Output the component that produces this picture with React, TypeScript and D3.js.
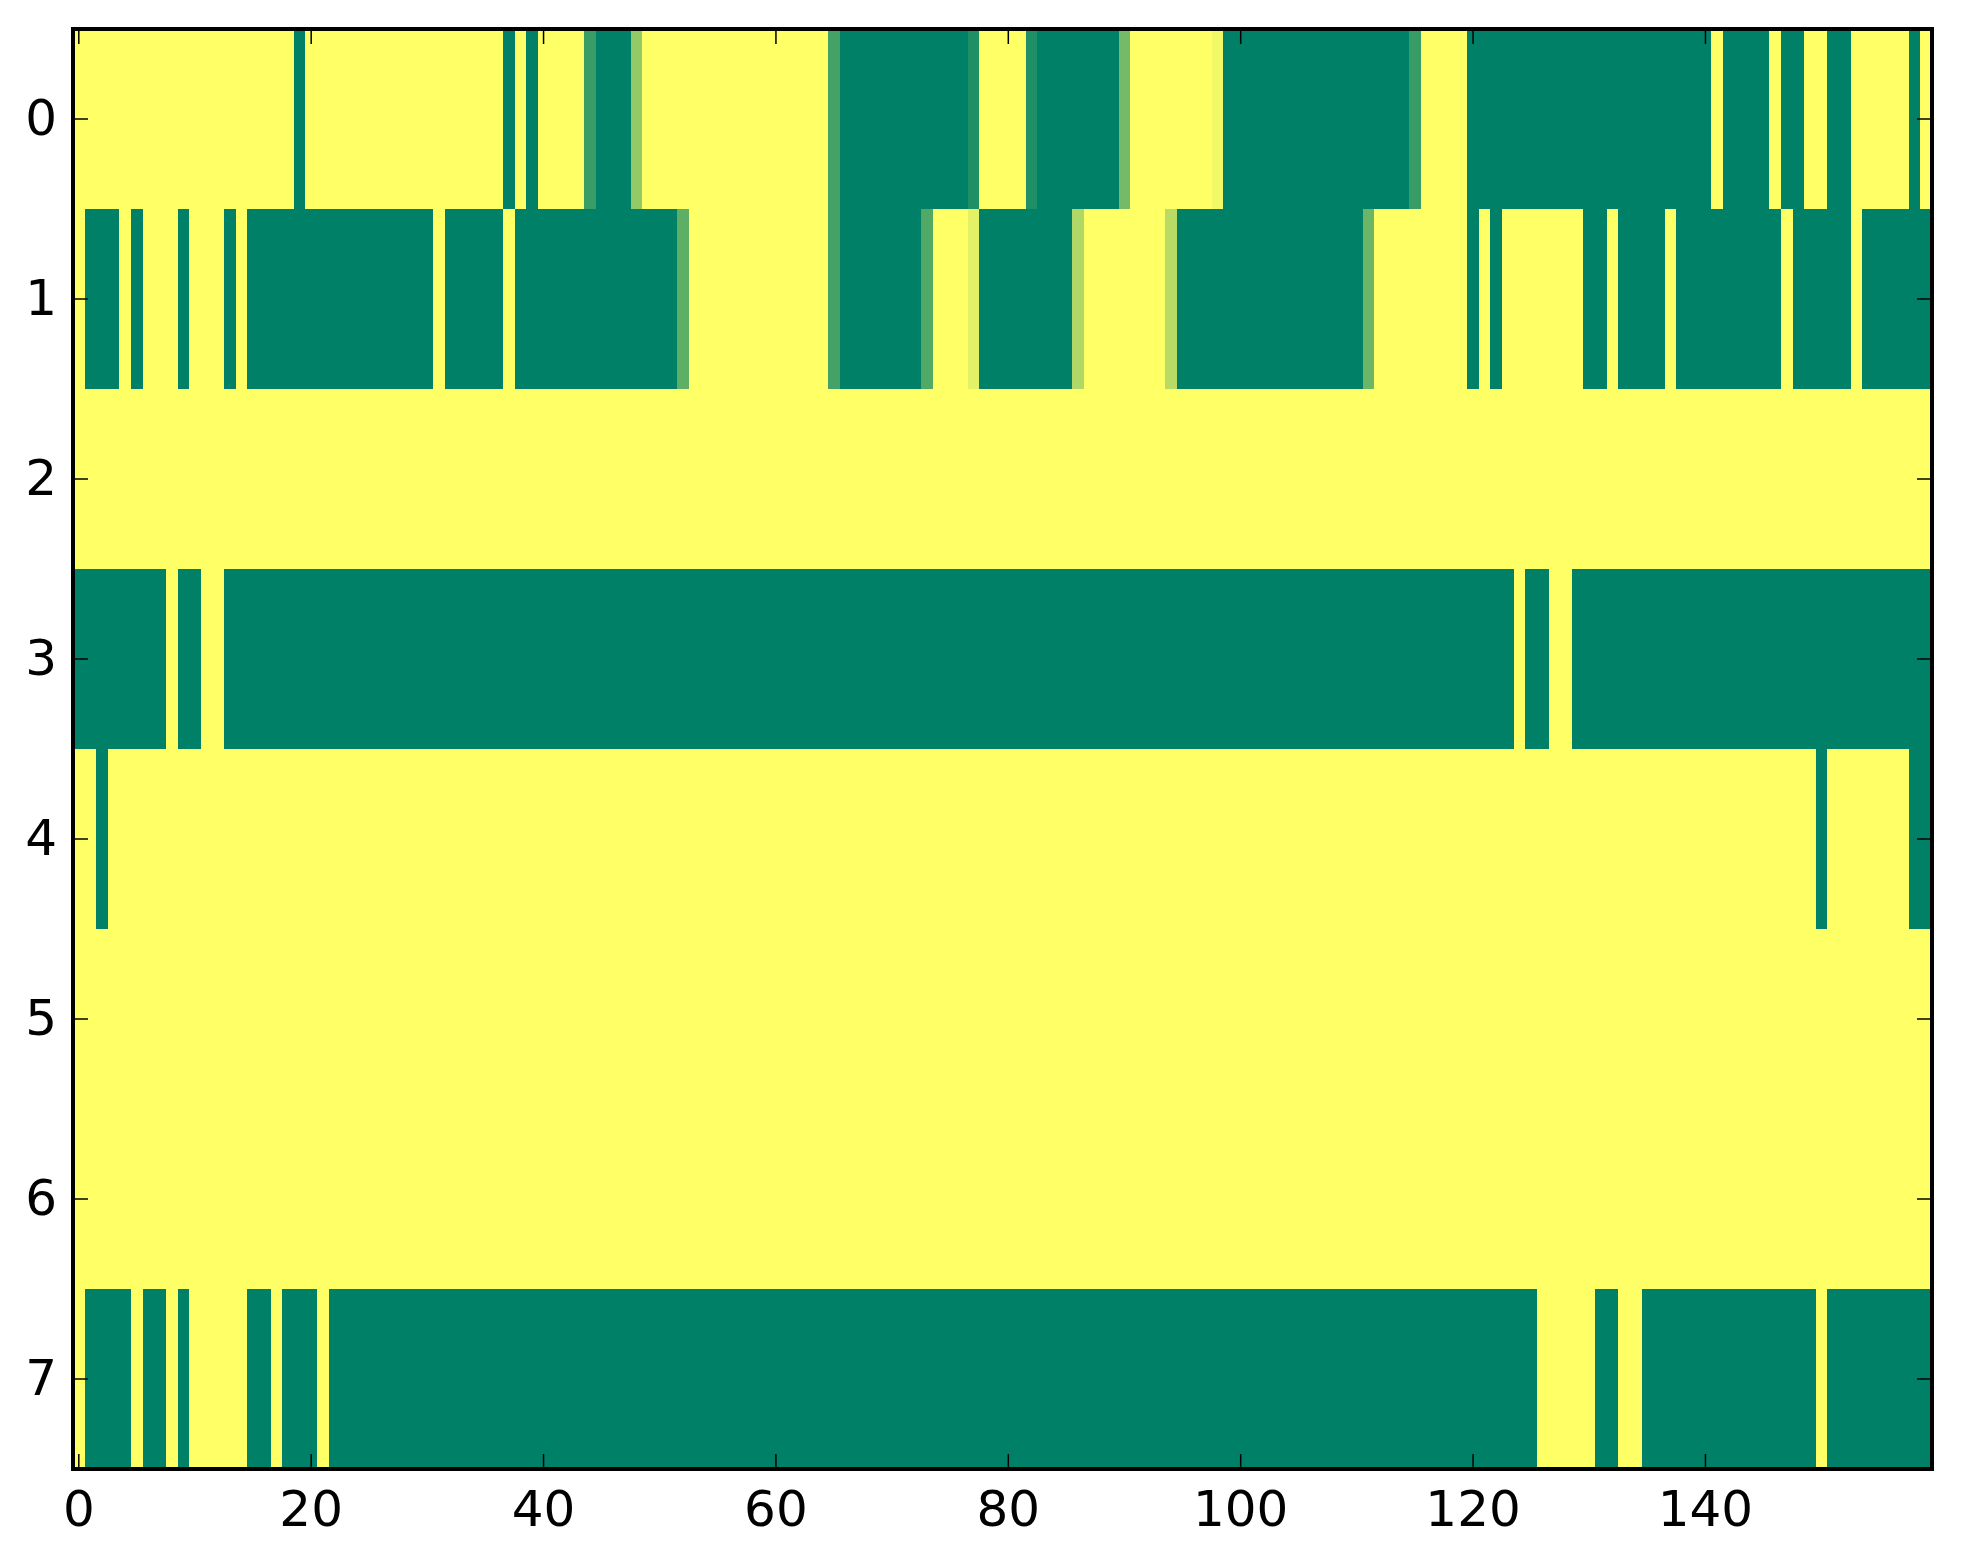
import React from "react";
import * as d3 from "d3";

// Row labels and x tick labels
const rowLabels = [0, 1, 2, 3, 4, 5, 6, 7];
const xTickValues = [0, 20, 40, 60, 80, 100, 120, 140];

// Cell values (0 = yellow, 1 = green), 160 columns per row
const row0 = [
  0,0,0,0,0,0,0,0,0,0,0,0,0,0,0,0,0,0,0,1,
  0,0,0,0,0,0,0,0,0,0,0,0,0,0,0,0,0,1,0,1,
  0,0,0,0,0.77,1,1,1,0.42,0,0,0,0,0,0,0,0,0,0,0,
  0,0,0,0,0,0.73,1,1,1,1,1,1,1,1,1,1,1,0.88,0,0,
  0,0,0.88,1,1,1,1,1,1,1,0.54,0,0,0,0,0,0,0,0.05,1,
  1,1,1,1,1,1,1,1,1,1,1,1,1,1,1,0.78,0,0,0,0,
  1,1,1,1,1,1,1,1,1,1,1,1,1,1,1,1,1,1,1,1,
  1,0,1,1,1,1,0,1,1,0,0,1,1,0,0,0,0,0,1,0,
];
const row1 = [
  0,1,1,1,0,1,0,0,0,1,0,0,0,1,0,1,1,1,1,1,
  1,1,1,1,1,1,1,1,1,1,1,0,1,1,1,1,1,0,1,1,
  1,1,1,1,1,1,1,1,1,1,1,1,0.63,0,0,0,0,0,0,0,
  0,0,0,0,0,0.73,1,1,1,1,1,1,1,0.68,0,0,0,0.11,1,1,
  1,1,1,1,1,1,0.31,0,0,0,0,0,0,0,0.28,1,1,1,1,1,
  1,1,1,1,1,1,1,1,1,1,1,0.58,0,0,0,0,0,0,0,0,
  1,0,1,0,0,0,0,0,0,0,1,1,0,1,1,1,1,0,1,1,
  1,1,1,1,1,1,1,0,1,1,1,1,1,0,1,1,1,1,1,1,
];
const row2 = [
  0,0,0,0,0,0,0,0,0,0,0,0,0,0,0,0,0,0,0,0,
  0,0,0,0,0,0,0,0,0,0,0,0,0,0,0,0,0,0,0,0,
  0,0,0,0,0,0,0,0,0,0,0,0,0,0,0,0,0,0,0,0,
  0,0,0,0,0,0,0,0,0,0,0,0,0,0,0,0,0,0,0,0,
  0,0,0,0,0,0,0,0,0,0,0,0,0,0,0,0,0,0,0,0,
  0,0,0,0,0,0,0,0,0,0,0,0,0,0,0,0,0,0,0,0,
  0,0,0,0,0,0,0,0,0,0,0,0,0,0,0,0,0,0,0,0,
  0,0,0,0,0,0,0,0,0,0,0,0,0,0,0,0,0,0,0,0,
];
const row3 = [
  1,1,1,1,1,1,1,1,0,1,1,0,0,1,1,1,1,1,1,1,
  1,1,1,1,1,1,1,1,1,1,1,1,1,1,1,1,1,1,1,1,
  1,1,1,1,1,1,1,1,1,1,1,1,1,1,1,1,1,1,1,1,
  1,1,1,1,1,1,1,1,1,1,1,1,1,1,1,1,1,1,1,1,
  1,1,1,1,1,1,1,1,1,1,1,1,1,1,1,1,1,1,1,1,
  1,1,1,1,1,1,1,1,1,1,1,1,1,1,1,1,1,1,1,1,
  1,1,1,1,0,1,1,0,0,1,1,1,1,1,1,1,1,1,1,1,
  1,1,1,1,1,1,1,1,1,1,1,1,1,1,1,1,1,1,1,1,
];
const row4 = [
  0,0,1,0,0,0,0,0,0,0,0,0,0,0,0,0,0,0,0,0,
  0,0,0,0,0,0,0,0,0,0,0,0,0,0,0,0,0,0,0,0,
  0,0,0,0,0,0,0,0,0,0,0,0,0,0,0,0,0,0,0,0,
  0,0,0,0,0,0,0,0,0,0,0,0,0,0,0,0,0,0,0,0,
  0,0,0,0,0,0,0,0,0,0,0,0,0,0,0,0,0,0,0,0,
  0,0,0,0,0,0,0,0,0,0,0,0,0,0,0,0,0,0,0,0,
  0,0,0,0,0,0,0,0,0,0,0,0,0,0,0,0,0,0,0,0,
  0,0,0,0,0,0,0,0,0,0,1,0,0,0,0,0,0,0,1,1,
];
const row5 = [
  0,0,0,0,0,0,0,0,0,0,0,0,0,0,0,0,0,0,0,0,
  0,0,0,0,0,0,0,0,0,0,0,0,0,0,0,0,0,0,0,0,
  0,0,0,0,0,0,0,0,0,0,0,0,0,0,0,0,0,0,0,0,
  0,0,0,0,0,0,0,0,0,0,0,0,0,0,0,0,0,0,0,0,
  0,0,0,0,0,0,0,0,0,0,0,0,0,0,0,0,0,0,0,0,
  0,0,0,0,0,0,0,0,0,0,0,0,0,0,0,0,0,0,0,0,
  0,0,0,0,0,0,0,0,0,0,0,0,0,0,0,0,0,0,0,0,
  0,0,0,0,0,0,0,0,0,0,0,0,0,0,0,0,0,0,0,0,
];
const row6 = [
  0,0,0,0,0,0,0,0,0,0,0,0,0,0,0,0,0,0,0,0,
  0,0,0,0,0,0,0,0,0,0,0,0,0,0,0,0,0,0,0,0,
  0,0,0,0,0,0,0,0,0,0,0,0,0,0,0,0,0,0,0,0,
  0,0,0,0,0,0,0,0,0,0,0,0,0,0,0,0,0,0,0,0,
  0,0,0,0,0,0,0,0,0,0,0,0,0,0,0,0,0,0,0,0,
  0,0,0,0,0,0,0,0,0,0,0,0,0,0,0,0,0,0,0,0,
  0,0,0,0,0,0,0,0,0,0,0,0,0,0,0,0,0,0,0,0,
  0,0,0,0,0,0,0,0,0,0,0,0,0,0,0,0,0,0,0,0,
];
const row7 = [
  0,1,1,1,1,0,1,1,0,1,0,0,0,0,0,1,1,0,1,1,
  1,0,1,1,1,1,1,1,1,1,1,1,1,1,1,1,1,1,1,1,
  1,1,1,1,1,1,1,1,1,1,1,1,1,1,1,1,1,1,1,1,
  1,1,1,1,1,1,1,1,1,1,1,1,1,1,1,1,1,1,1,1,
  1,1,1,1,1,1,1,1,1,1,1,1,1,1,1,1,1,1,1,1,
  1,1,1,1,1,1,1,1,1,1,1,1,1,1,1,1,1,1,1,1,
  1,1,1,1,1,1,0,0,0,0,0,1,1,0,0,1,1,1,1,1,
  1,1,1,1,1,1,1,1,1,1,0,1,1,1,1,1,1,1,1,1,
];
const rows = [row0, row1, row2, row3, row4, row5, row6, row7];

const W = 1963;
const H = 1564;
const left = 73;
const right = 1932;
const top = 29;
const bottom = 1469;

export default function App() {
  const nCols = row0.length;
  const x = d3.scaleLinear().domain([-0.5, nCols - 0.5]).range([left, right]);
  const y = d3.scaleLinear().domain([-0.5, rows.length - 0.5]).range([top, bottom]);
  // summer_r colormap: 0 -> yellow, 1 -> green
  const color = d3.scaleLinear<string>().domain([0, 1]).range(["#ffff66", "#008066"]).interpolate(d3.interpolateRgb);

  const tickLen = 15;
  const font = "'DejaVu Sans', sans-serif";

  return (
    <div style={{ position: "absolute", left: 0, top: 0, width: W, height: H, background: "#fff" }}>
      <svg width={W} height={H} style={{ display: "block" }}>
        <rect x={0} y={0} width={W} height={H} fill="#fff" />
        <g shapeRendering="crispEdges">
          {rows.map((r, ri) =>
            r.map((v, ci) => (
              <rect
                key={`${ri}-${ci}`}
                x={x(ci - 0.5)}
                y={y(ri - 0.5)}
                width={x(ci + 0.5) - x(ci - 0.5) + 0.6}
                height={y(ri + 0.5) - y(ri - 0.5) + 0.6}
                fill={color(v)}
              />
            ))
          )}
        </g>
        {/* x ticks (bottom and top, inward) */}
        {xTickValues.map((t) => (
          <g key={`xt${t}`}>
            <line x1={x(t)} x2={x(t)} y1={bottom} y2={bottom - tickLen} stroke="#000" strokeWidth={1.5} />
            <line x1={x(t)} x2={x(t)} y1={top} y2={top + tickLen} stroke="#000" strokeWidth={1.5} />
            <text x={x(t)} y={1526} textAnchor="middle" fontFamily={font} fontSize={50} fill="#000">
              {t}
            </text>
          </g>
        ))}
        {/* y ticks (left and right, inward) */}
        {rowLabels.map((t) => (
          <g key={`yt${t}`}>
            <line x1={left} x2={left + tickLen} y1={y(t)} y2={y(t)} stroke="#000" strokeWidth={1.5} />
            <line x1={right} x2={right - tickLen} y1={y(t)} y2={y(t)} stroke="#000" strokeWidth={1.5} />
            <text x={57} y={y(t) + 16} textAnchor="end" fontFamily={font} fontSize={50} fill="#000">
              {t}
            </text>
          </g>
        ))}
        <rect x={left} y={top} width={right - left} height={bottom - top} fill="none" stroke="#000" strokeWidth={4} />
      </svg>
    </div>
  );
}
